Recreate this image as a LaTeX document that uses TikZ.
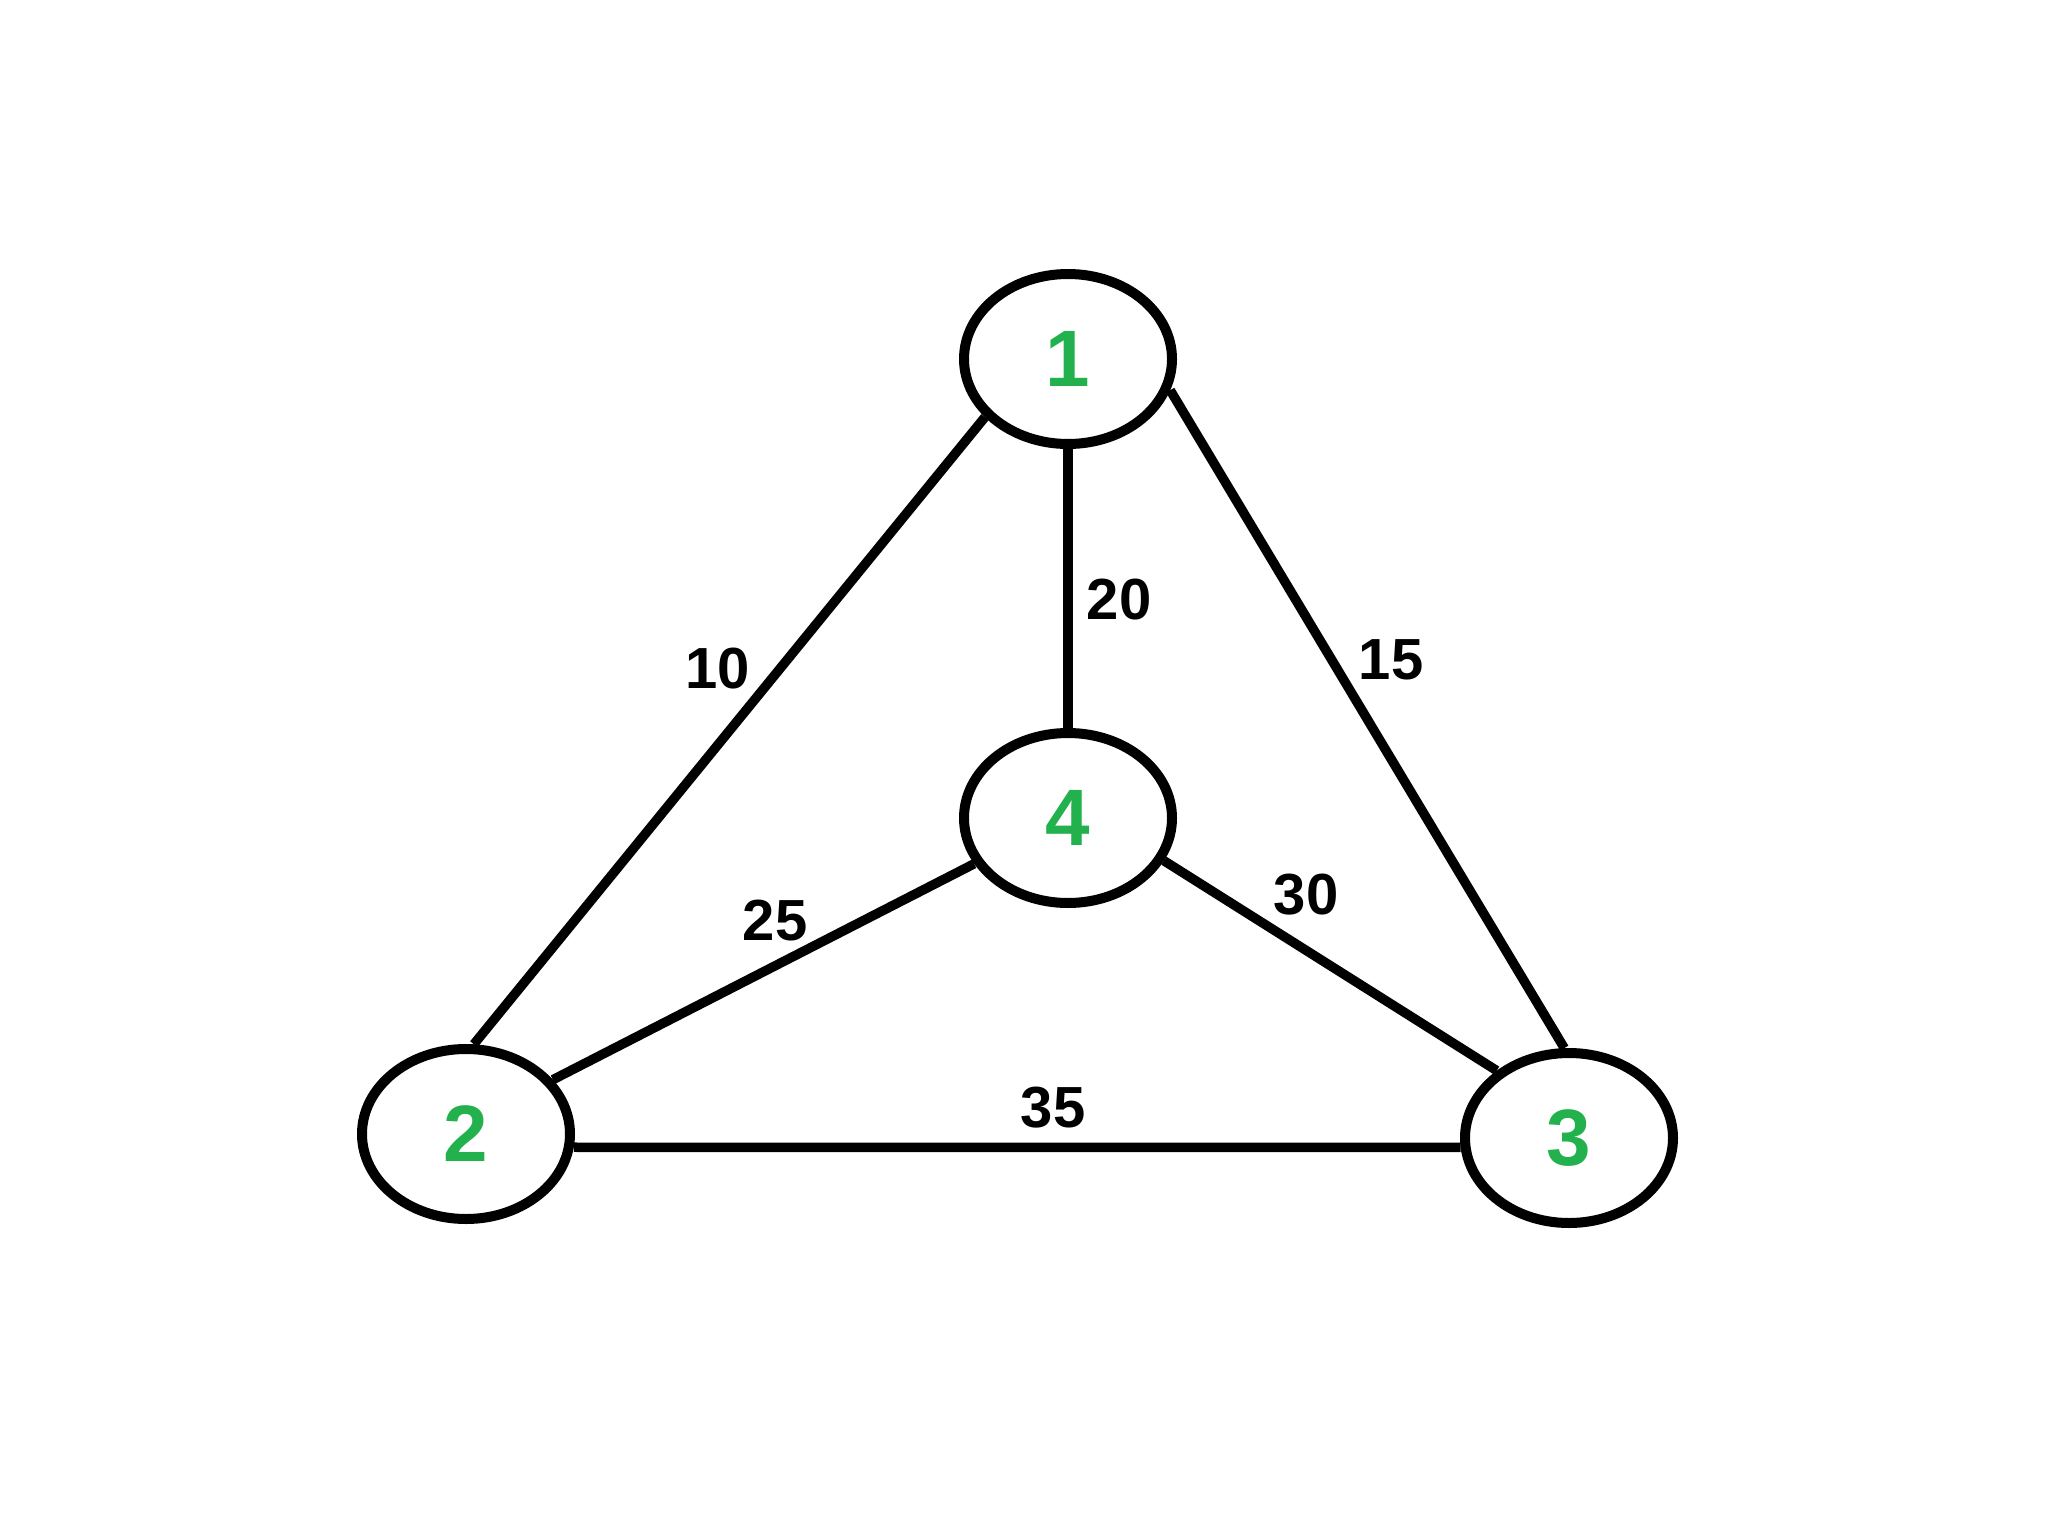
\documentclass[tikz,border=0pt]{standalone}
\usepackage{fontspec}
\setmainfont{Liberation Sans}
\usetikzlibrary{shapes.geometric}
\definecolor{nodegreen}{HTML}{22B14C}
\begin{document}
\begin{tikzpicture}[x=1pt,y=-1pt,
  vertex/.style={ellipse, draw, line width=10pt, minimum width=208pt, minimum height=170pt, inner sep=0pt, text=nodegreen, font=\fontsize{80}{90}\selectfont\bfseries},
  edge/.style={line width=9.5pt},
  weight/.style={font=\fontsize{58}{68}\selectfont\bfseries, inner sep=0pt}]
\useasboundingbox[fill=white] (0,0) rectangle (2048,1536);
\node[vertex] (n1) at (1068,359) {1};
\node[vertex] (n4) at (1068,818) {4};
\node[vertex] (n2) at (466,1134) {2};
\node[vertex] (n3) at (1569,1138) {3};
\draw[edge] (n1.215) -- (n2.85);
\draw[edge] (n1.343) -- (n3.93);
\draw[edge] (n1.south) -- (n4.north);
\draw[edge] (n2.32) -- (n4.206);
\draw[edge] (n4.336) -- (n3.137);
\draw[edge] (n2.-7) -- (n3.185);
\node[weight] (w10) at (718,669) {10};
\node[weight] (w20) at (1119,600) {20};
\node[weight] (w15) at (1391,660) {15};
\node[weight] (w25) at (775,921) {25};
\node[weight] (w30) at (1306,895) {30};
\node[weight] (w35) at (1053,1108) {35};
\end{tikzpicture}
\end{document}
